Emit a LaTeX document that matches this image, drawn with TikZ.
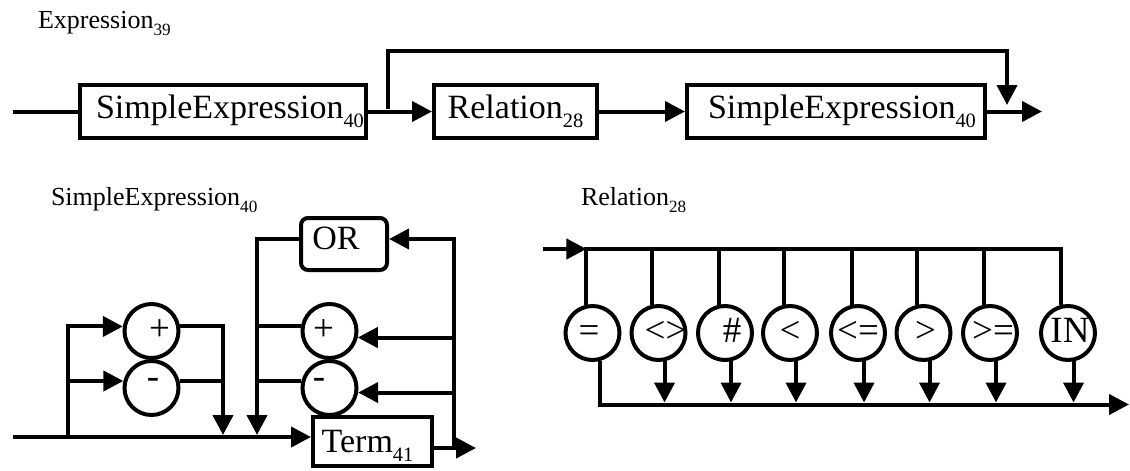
\documentclass[tikz,border=0pt]{standalone}
\usepackage{fontspec}
\setmainfont{Liberation Serif}
\usepackage{graphicx}
\usetikzlibrary{arrows.meta}

% index numbers written below the line of a name
\newcommand\subnum[1]{\raisebox{-0.28em}{\scalebox{0.6}{#1}}}
\newcommand\titlesub[1]{\raisebox{-0.3em}{\scalebox{0.66}{#1}}}
% text shifted sideways by half of #1 without changing the node size
\newcommand\nudge[2]{\makebox[0pt]{\hspace*{#1}#2}}

\begin{document}
\begin{tikzpicture}[x=1pt,y=-1pt,line width=4pt,
  arr/.style={-{Triangle[length=20pt,width=20pt]}},
  bigtxt/.style={font=\fontsize{34}{40}\selectfont},
  titletxt/.style={font=\fontsize{26}{31}\selectfont,anchor=base west,inner sep=0pt},
  boxnode/.style={draw,rectangle,bigtxt,inner sep=0pt,line width=4pt},
  ring/.style={draw,circle,font=\fontsize{37}{42}\selectfont,inner sep=0pt,minimum size=54pt,
    text height=18pt,text depth=0pt,line width=4pt}]

\useasboundingbox (0,0) rectangle (1130,471);

% ---------------- Expression ----------------
\node[titletxt] (t1) at (36,28) {Expression\titlesub{39}};

\node[boxnode,minimum width=286pt,minimum height=53pt,text height=23pt,text depth=10pt]
  (se1) at (223,111.5) {\nudge{14pt}{SimpleExpression\subnum{40}}};
\node[boxnode,minimum width=163pt,minimum height=53pt,text height=23pt,text depth=10pt]
  (rel) at (515.5,111.5) {Relation\subnum{28}};
\node[boxnode,minimum width=298pt,minimum height=53pt,text height=23pt,text depth=10pt]
  (se2) at (836,111.5) {\nudge{12pt}{SimpleExpression\subnum{40}}};

\coordinate (ein) at (13,111.5);
\coordinate (eout) at (1042,111.5);
\coordinate (bs) at (388,109);
\coordinate (be) at (1007,105);

\draw (ein) -- (se1);
\draw[arr] (se1) -- (rel);
\draw[arr] (rel) -- (se2);
\draw[arr] (se2) -- (eout);
\draw[arr] (bs) -- ++(0,-58) -| (be);

% ---------------- SimpleExpression ----------------
\node[titletxt] (t2) at (49,205) {SimpleExpression\titlesub{40}};

\node[ring] (lp) at (151.5,331) {\nudge{16pt}{+}};
\node[ring] (lm) at (151.5,388) {\raisebox{9pt}{\nudge{3pt}{-}}};
\node[ring] (rp) at (329.5,331) {\nudge{-12pt}{+}};
\node[ring] (rm) at (329.5,388) {\raisebox{9pt}{\nudge{-21pt}{-}}};
\node[boxnode,rounded corners=7pt,minimum width=86pt,minimum height=52pt,
  text height=23pt,text depth=13pt] (or) at (344,244) {\nudge{-16pt}{OR}};
\node[boxnode,minimum width=119pt,minimum height=49pt,text height=23pt,text depth=2pt]
  (term) at (372.5,441.5) {\nudge{-10pt}{Term\subnum{41}}};

\coordinate (sin) at (13,437);
\coordinate (sout) at (476,448);
\coordinate (j1) at (68,437);
\coordinate (j2) at (223,435);
\coordinate (j3) at (257,435);
\coordinate (j4) at (454,448);

\draw[arr] (sin) -- ([yshift=4.5pt]term.west);
\draw[arr] ([yshift=-6.5pt]term.east) -- (sout);

% optional sign
\draw[arr] (j1) |- (lp.171);
\draw[arr] (j1 |- lm.166) -- (lm.166);
\draw[arr] (lp.9) -| (j2);
\draw (lm.14) -- (lm.14 -| j2);

% repetition with an adding operator
\draw[arr] ([yshift=5pt]or.west) -| (j3);
\draw (rp.171) -- (rp.171 -| j3);
\draw (rm.167) -- (rm.167 -| j3);
\draw[arr] (j4) |- ([yshift=5pt]or.east);
\draw[arr] (j4 |- rp.347) -- (rp.347);
\draw[arr] (j4 |- rm.351) -- (rm.351);

% ---------------- Relation ----------------
\node[titletxt] (t3) at (579,205) {Relation\titlesub{28}};

\node[ring] (eq) at (592.5,333) {\nudge{-7pt}{=}};
\node[ring] (ne) at (658.5,333) {\nudge{14pt}{<>}};
\node[ring] (hs) at (725,333) {\nudge{14pt}{\#}};
\node[ring] (lt) at (790,333) {<};
\node[ring] (le) at (858,333) {<=};
\node[ring] (gt) at (923.5,333) {\nudge{4pt}{>}};
\node[ring] (ge) at (990,333) {\nudge{6pt}{>=}};
\node[ring] (inop) at (1068,333) {\nudge{4pt}{IN}};

\coordinate (rin) at (543,249);
\coordinate (rtop) at (600,249);
\coordinate (rbot) at (600,404.5);
\coordinate (rtip) at (600,402.5);
\coordinate (rout) at (1129,404.5);

\draw[arr] (rin) -- (eq.102 |- rtop);
\draw (eq.102) -- (eq.102 |- rtop) -- (inop.103 |- rtop) -- (inop.103);
\foreach \n in {ne,hs,lt,le,gt,ge}
  \draw (\n.102) -- (\n.102 |- rtop);
\draw[arr] (eq.286) -- (eq.286 |- rbot) -- (rout);
\foreach \n in {ne,hs,lt,le,gt,ge}
  \draw[arr] (\n.282) -- (\n.282 |- rtip);
\draw[arr] (inop.281) -- (inop.281 |- rtip);

\end{tikzpicture}
\end{document}
